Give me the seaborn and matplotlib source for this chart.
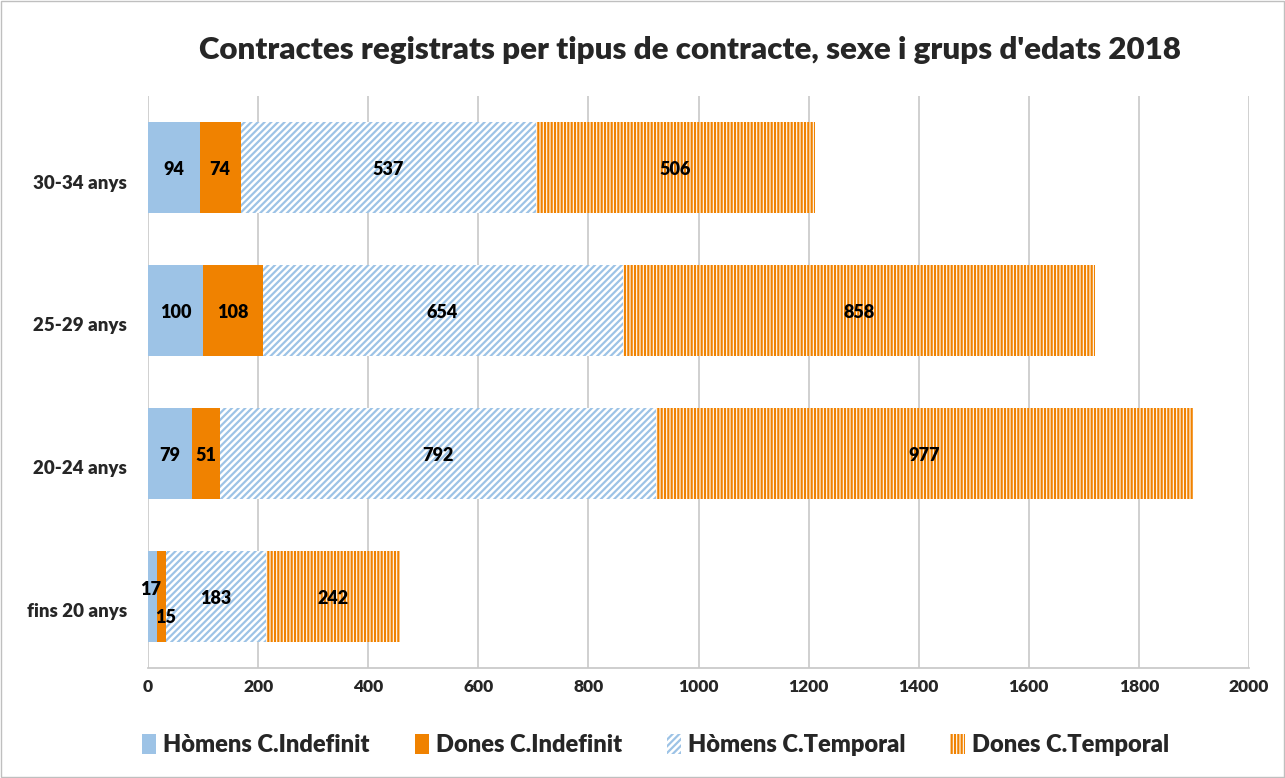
import numpy as np
import pandas as pd
import matplotlib
matplotlib.use("Agg")
import matplotlib.pyplot as plt
import matplotlib.transforms as mtransforms
import seaborn as sns
from matplotlib.patches import Patch, Rectangle

# Dades
grups = ["30-34 anys", "25-29 anys", "20-24 anys", "fins 20 anys"]
homens_indef = [94, 100, 79, 17]
dones_indef = [74, 108, 51, 15]
homens_temp = [537, 654, 792, 183]
dones_temp = [506, 858, 977, 242]
series = ["Hòmens C.Indefinit", "Dones C.Indefinit", "Hòmens C.Temporal", "Dones C.Temporal"]

sns.set_theme(style="whitegrid")
plt.rcParams["font.family"] = ["Lato", "DejaVu Sans"]
plt.rcParams["hatch.linewidth"] = 1.6

blau = "#9DC3E6"
taronja = "#F08200"

df = pd.DataFrame({"grup": grups, series[0]: homens_indef, series[1]: dones_indef,
                   series[2]: homens_temp, series[3]: dones_temp})
vals = df[series].to_numpy()
cum = vals.cumsum(axis=1)

fig = plt.figure(figsize=(12.85, 7.78), dpi=100)
ax = fig.add_axes([0.1152, 0.1414, 0.8568, 0.7352])

estils = [
    dict(color=blau, hatch=None),
    dict(color=taronja, hatch=None),
    dict(color="white", edgecolor=blau, hatch="/////"),
    dict(color="white", edgecolor=taronja, hatch="|||||"),
]

# barres apilades: es dibuixa primer el total i després les sumes parcials a sobre
for i in range(3, -1, -1):
    d = pd.DataFrame({"grup": grups, "v": cum[:, i]})
    st = estils[i]
    sns.barplot(data=d, y="grup", x="v", order=grups, ax=ax, width=0.64,
                color=st["color"], edgecolor=st.get("edgecolor", st["color"]),
                hatch=st["hatch"], linewidth=0, saturation=1, errorbar=None)

# etiquetes
for r in range(len(grups)):
    for i in range(4):
        x = cum[r, i] - vals[r, i] / 2
        y = r + 0.015
        if grups[r] == "fins 20 anys" and i == 0:
            x, y = vals[r, 0] / 2 - 3, r - 0.05
        elif grups[r] == "fins 20 anys" and i == 1:
            x, y = cum[r, 1] - 1, r + 0.145
        ax.text(x, y, str(vals[r, i]), ha="center", va="center",
                fontsize=13, fontweight="heavy", color="black")

ax.set_xlim(0, 2000)
ax.set_xticks(range(0, 2001, 200))
ax.set_xlabel("")
ax.set_ylabel("")
ax.grid(axis="x", color="#C8C8C8", linewidth=1.2)
ax.grid(axis="y", visible=False)
for s in ["top", "right", "left"]:
    ax.spines[s].set_visible(False)
ax.spines["bottom"].set_visible(True)
ax.spines["bottom"].set_color("#C8C8C8")
ax.tick_params(axis="x", labelsize=12.5, length=0, pad=8)
ax.tick_params(axis="y", labelsize=13.5, length=0, pad=15)
for t in ax.get_xticklabels() + ax.get_yticklabels():
    t.set_fontweight("heavy")
# les etiquetes de l'eix y queden una mica per sota del centre de la barra
despl = mtransforms.ScaledTranslation(0, -0.14, fig.dpi_scale_trans)
for t in ax.get_yticklabels():
    t.set_transform(t.get_transform() + despl)
ax.set_facecolor("white")

fig.text(0.537, 0.936, "Contractes registrats per tipus de contracte, sexe i grups d'edats 2018",
         ha="center", va="center", fontsize=22.5, fontweight="heavy")

handles = [Patch(facecolor=blau, edgecolor=blau, linewidth=0),
           Patch(facecolor=taronja, edgecolor=taronja, linewidth=0),
           Patch(facecolor="white", edgecolor=blau, hatch="/////", linewidth=0),
           Patch(facecolor="white", edgecolor=taronja, hatch="|||||", linewidth=0)]
leg = fig.legend(handles, series, loc="center", bbox_to_anchor=(0.51, 0.042), ncol=4,
                 frameon=False, prop={"size": 17, "weight": "heavy"}, handlelength=0.6,
                 handleheight=0.9, columnspacing=1.9, handletextpad=0.3)

fig.add_artist(Rectangle((0.001, 0.001), 0.998, 0.998, transform=fig.transFigure,
                         fill=False, edgecolor="#BFBFBF", linewidth=1))

fig.savefig("out.png", dpi=100, facecolor="white")
